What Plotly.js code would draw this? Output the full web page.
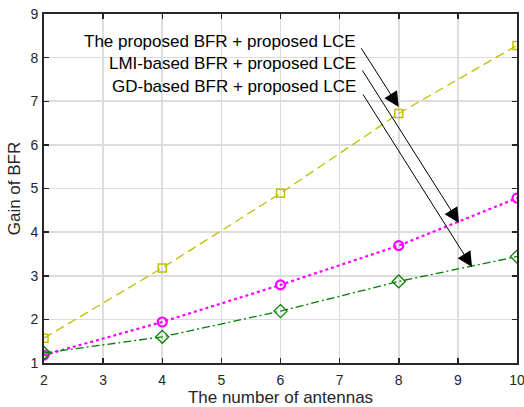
<!DOCTYPE html>
<html><head><meta charset="utf-8">
<script src="https://cdn.plot.ly/plotly-3.0.1.min.js"></script>
<style>html,body{margin:0;padding:0;background:#fff}#c{width:524px;height:407px}</style>
</head><body><div id="c"></div>
<script>
const antennas = [2, 4, 6, 8, 10];
const proposed = [1.57, 3.18, 4.89, 6.72, 8.28];
const lmi = [1.18, 1.94, 2.79, 3.69, 4.78];
const gd = [1.23, 1.60, 2.19, 2.87, 3.44];
const labels = ["The proposed BFR + proposed LCE", "LMI-based BFR + proposed LCE", "GD-based BFR + proposed LCE"];
const xTicks = [2, 3, 4, 5, 6, 7, 8, 9, 10];
const yTicks = [1, 2, 3, 4, 5, 6, 7, 8, 9];
const labelY = [8.36, 7.86, 7.33];
const arrowStart = [[7.35, 8.25], [7.37, 7.74], [7.38, 7.19]];
const arrowTip = [[8.0, 6.87], [9.02, 4.21], [9.24, 3.20]];

const FONT = 'Liberation Sans, Arial, sans-serif';
const traces = [
  {x: antennas, y: proposed, mode: 'lines+markers', line: {color: '#bfbf00', dash: '9px,5px', width: 1.3},
   marker: {symbol: 'square-open', size: 8, color: '#bfbf00', line: {width: 1.5}}},
  {x: antennas, y: lmi, mode: 'lines+markers', line: {color: '#ff00ff', dash: 'dot', width: 2.2},
   marker: {symbol: 'circle-open', size: 9, color: '#ff00ff', line: {width: 2.2}}},
  {x: antennas, y: gd, mode: 'lines+markers', line: {color: '#008000', dash: '8px,3px,2px,3px', width: 1.3},
   marker: {symbol: 'diamond-open', size: 10, color: '#008000', line: {width: 1.3}}}
];

const annotations = [];
labels.forEach((t, i) => {
  annotations.push({x: 7.31, y: labelY[i], xref: 'x', yref: 'y', text: t, showarrow: false,
    xanchor: 'right', yanchor: 'middle', font: {family: FONT, size: 17, color: '#000'}});
  annotations.push({x: arrowTip[i][0], y: arrowTip[i][1], ax: arrowStart[i][0], ay: arrowStart[i][1],
    xref: 'x', yref: 'y', axref: 'x', ayref: 'y', text: '', showarrow: true,
    arrowhead: 2, arrowsize: 3, arrowwidth: 1, arrowcolor: '#000', standoff: 0});
});

const axisCommon = {showline: true, linecolor: '#262626', linewidth: 2, mirror: 'ticks', ticks: 'inside',
  ticklen: 5, tickwidth: 1.5, tickcolor: '#262626', showgrid: true, gridcolor: '#dcdcdc', gridwidth: 1.6,
  zeroline: false, ticklabeloverflow: 'allow', tickfont: {family: FONT, size: 14, color: '#262626'}};

const layout = {
  width: 524, height: 407, showlegend: false,
  margin: {l: 44, r: 7, t: 14, b: 44},
  paper_bgcolor: '#fff', plot_bgcolor: '#fff',
  xaxis: Object.assign({}, axisCommon, {range: [2, 10], tickvals: xTicks, ticktext: xTicks.map(String),
    ticklabelstandoff: 3,
    title: {text: 'The number of antennas', standoff: 5, font: {family: FONT, size: 17, color: '#262626'}}}),
  yaxis: Object.assign({}, axisCommon, {range: [1, 9], tickvals: yTicks, ticktext: yTicks.map(String),
    ticklabelstandoff: 1,
    title: {text: 'Gain of BFR', standoff: 5, font: {family: FONT, size: 17, color: '#262626'}}}),
  annotations: annotations
};

Plotly.newPlot('c', traces, layout, {displayModeBar: false, staticPlot: true});
</script></body></html>
